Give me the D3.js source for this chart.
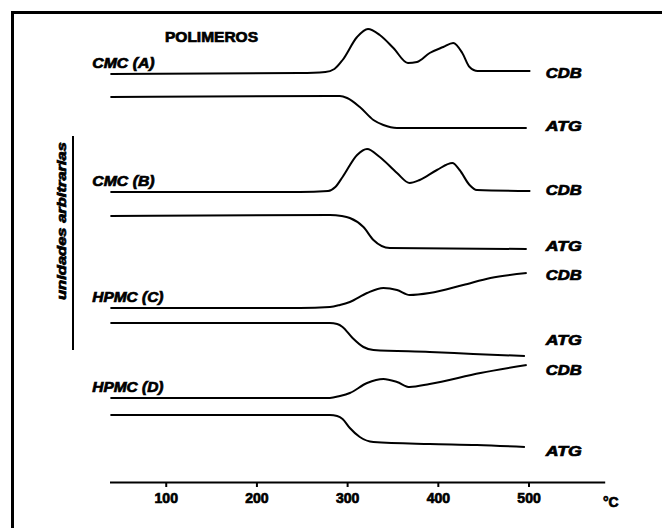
<!DOCTYPE html>
<html>
<head>
<meta charset="utf-8">
<script src="https://cdn.jsdelivr.net/npm/d3@7"></script>
<style>
  body { margin: 0; background: #fff; }
  text { font-family: "Liberation Sans", Arial, sans-serif; fill: #000; }
</style>
</head>
<body>
<svg id="chart" width="662" height="528"></svg>
<script>
"use strict";
// samples, top to bottom
const sampleNames = ["CMC (A)", "CMC (B)", "HPMC (C)", "HPMC (D)"];
// baseline of every trace (arbitrary units)
const cdbOffsets = [408, 290, 174, 84];
const atgOffsets = [385, 266, 159, 67];
// where the CDB / ATG tags sit on the right
const cdbTagY = [409, 292, 207, 112];
const atgTagY = [356, 236, 142, 31];

// [temperature °C, signal above baseline]
const cdbA = [[39,0],[248,1],[276,2],[286,5],[295,14],[311,37],[323,45],[336,39],[351,26],[367,11],[377,12],
  [391,21],[406,27],[417,31],[427,21],[435,7],[444,3],[502,3]];
const cdbB = [[39,0],[248,0],[279,1],[287,5],[295,15],[311,37],[322,43],[336,35],[355,19],[369,9],[380,12],
  [399,22],[416,29],[424,22],[435,7],[443,2],[502,1]];
const cdbC = [[39,0],[248,0],[281,1],[292,3],[303,6],[322,15],[340,20],[355,18],[369,13],[391,15],[428,23],
  [458,30],[498,35]];
const cdbD = [[39,0],[248,0],[281,0],[292,2],[303,5],[322,15],[340,19],[355,16],[369,11],[391,14],[447,25],
  [498,33]];

const atgA = [[39,0],[281,1],[292,1],[300,-1],[314,-10],[329,-23],[340,-28],[355,-31],[498,-31]];
const atgB = [[39,0],[281,1],[294,0],[303,-2],[318,-11],[329,-24],[347,-32],[498,-33]];
const atgC = [[39,0],[281,0],[289,-1],[295,-4],[306,-15],[318,-24],[329,-27],[391,-29],[439,-31],[496,-33]];
const atgD = [[39,0],[281,0],[289,-1],[295,-4],[303,-13],[314,-22],[329,-27],[391,-29],[443,-30],[496,-32]];

const cdbCurves = [cdbA, cdbB, cdbC, cdbD];
const atgCurves = [atgA, atgB, atgC, atgD];

const xTicks = [100, 200, 300, 400, 500];

const svg = d3.select("#chart");
svg.append("rect").attr("width", 662).attr("height", 528).attr("fill", "#fff");

const x = d3.scaleLinear().domain([38, 584]).range([109.5, 604.7]);
const y = d3.scaleLinear().domain([0, 470]).range([482, 12]);

// frame (runs off the right and bottom of the picture)
svg.append("path")
    .attr("d", "M12.5,528 L12.5,12.5 L662,12.5")
    .attr("fill", "none")
    .attr("stroke", "#000")
    .attr("stroke-width", 3);

const bold = sel => sel.style("font-weight", "bold")
    .attr("stroke", "#000").attr("stroke-width", 0.7);

// title
svg.append("text").text("POLIMEROS")
    .attr("x", 165).attr("y", 42)
    .attr("textLength", 93).attr("lengthAdjust", "spacingAndGlyphs")
    .style("font-size", "14px")
    .call(bold);

// y label with its bar
svg.append("line")
    .attr("x1", 73).attr("x2", 73)
    .attr("y1", 136).attr("y2", 350)
    .attr("stroke", "#000").attr("stroke-width", 2);
svg.append("text").text("unidades arbitrarias")
    .attr("transform", "translate(66,221) rotate(-90)")
    .attr("text-anchor", "middle")
    .attr("textLength", 158).attr("lengthAdjust", "spacingAndGlyphs")
    .style("font-size", "12px").style("font-style", "italic")
    .call(bold);

const line = d3.line().curve(d3.curveMonotoneX);

function drawTrace(points, offset) {
  svg.append("path")
      .attr("d", line(points.map(p => [x(p[0]), y(offset + p[1])])))
      .attr("fill", "none")
      .attr("stroke", "#000")
      .attr("stroke-width", 2)
      .attr("stroke-linejoin", "round");
}

sampleNames.forEach((name, i) => {
  drawTrace(cdbCurves[i], cdbOffsets[i]);
  drawTrace(atgCurves[i], atgOffsets[i]);

  svg.append("text").text(name)
      .attr("x", x(19)).attr("y", y(cdbOffsets[i] + 6))
      .attr("textLength", name.length * 8.9).attr("lengthAdjust", "spacingAndGlyphs")
      .style("font-size", "14px").style("font-style", "italic")
      .call(bold);

  [["CDB", cdbTagY[i]], ["ATG", atgTagY[i]]].forEach(([tag, v]) => {
    svg.append("text").text(tag)
        .attr("x", x(519)).attr("y", y(v))
        .attr("dy", "0.36em")
        .attr("textLength", 36).attr("lengthAdjust", "spacingAndGlyphs")
        .style("font-size", "14px").style("font-style", "italic")
        .call(bold);
  });
});

// temperature axis
const xAxis = d3.axisBottom(x)
    .tickValues(xTicks)
    .tickSizeInner(5)
    .tickSizeOuter(0)
    .tickPadding(6);
const gx = svg.append("g")
    .attr("transform", `translate(0,${y(0)})`)
    .call(xAxis);
gx.attr("font-size", null).attr("font-family", null);
gx.select(".domain").attr("stroke-width", 2);
gx.selectAll(".tick line").attr("stroke-width", 2);
gx.selectAll(".tick text")
    .style("font-size", "14px")
    .call(bold);

svg.append("text").text("°C")
    .attr("x", 603).attr("y", 507)
    .style("font-size", "14px")
    .call(bold);
</script>
</body>
</html>
